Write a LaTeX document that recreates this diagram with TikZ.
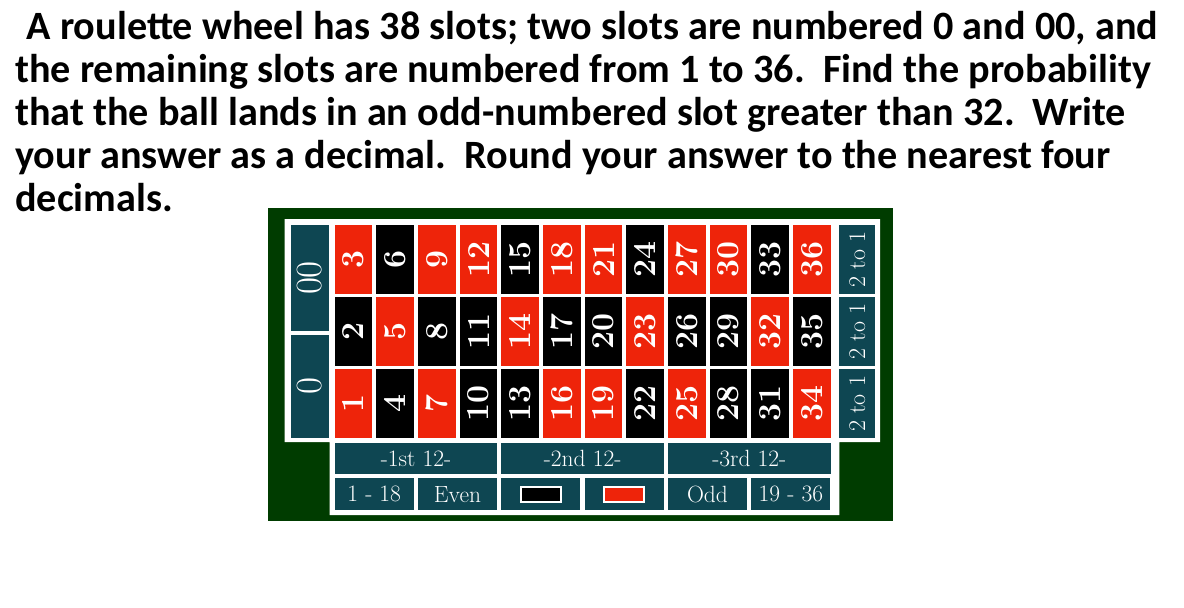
\documentclass[tikz,border=0pt]{standalone}
\usepackage{fontspec}
\newfontfamily\qfont{Carlito}
\usepackage{xcolor}
\usetikzlibrary{positioning}

\definecolor{felt}{RGB}{0,60,0}
\definecolor{slotred}{RGB}{238,36,10}
\definecolor{slotteal}{RGB}{14,70,82}

\tikzset{
  qline/.style={anchor=base west, inner sep=0pt, font=\qfont\bfseries\fontsize{40.2}{43}\selectfont},
  num/.style={text=white, inner sep=0pt, rotate=90, minimum width=68.8pt, minimum height=37.6pt, font=\bfseries\fontsize{32}{32}\selectfont},
  side/.style={fill=slotteal, text=white, inner sep=0pt, rotate=90, minimum width=68.8pt, minimum height=35.7pt, font=\fontsize{24}{24}\selectfont},
  zero/.style={side, minimum height=38.3pt, font=\fontsize{37}{37}\selectfont},
  bet/.style={fill=slotteal, text=white, inner sep=0pt, minimum height=31pt, font=\fontsize{23.5}{23.5}\selectfont},
  swatch/.style={draw=white, line width=2pt, inner sep=0pt, minimum width=39.6pt, minimum height=14.6pt}
}

\begin{document}
\begin{tikzpicture}[x=1pt,y=-1pt]
\useasboundingbox (0,0) rectangle (1184,608);
% question
\node[qline] (q1) at (26.5,39.5) {A roulette wheel has 38 slots; two slots are numbered 0 and 00, and};
\node[qline] (q2) at (15,82.5) {the remaining slots are numbered from 1 to 36.\ \ Find the probability};
\node[qline] (q3) at (15,125.5) {that the ball lands in an odd-numbered slot greater than 32.\ \ Write};
\node[qline] (q4) at (15,168.5) {your answer as a decimal.\ \ Round your answer to the nearest four};
\node[qline] (q5) at (15,211.5) {decimals.};

% table
\fill[felt] (268,208) rectangle (893,521);
\fill[white] (284.7,219) -| (880,442) -| (839.3,515) -| (329.7,442) -| (284.7,219) -- cycle;
\node[zero, minimum width=106pt] (n00) at (309.8,278) {00};
\node[zero, minimum width=103pt] (n0) at (309.8,386.5) {0};
\foreach \n/\clr in {1/slotred,2/black,3/slotred,4/black,5/slotred,6/black,7/slotred,8/black,9/slotred,
  10/black,11/black,12/slotred,13/black,14/slotred,15/black,16/slotred,17/black,18/slotred,
  19/slotred,20/black,21/slotred,22/black,23/slotred,24/black,25/slotred,26/black,27/slotred,
  28/black,29/black,30/slotred,31/black,32/slotred,33/black,34/slotred,35/black,36/slotred}{
  \pgfmathsetmacro\cx{353.5+41.67*int((\n-1)/3)}
  \pgfmathsetmacro\cy{259.4+72.2*(2-mod(\n-1,3))}
  \node[num, fill=\clr] (n\n) at (\cx,\cy) {\n};
}
\foreach \r in {0,1,2}
  \node[side] (col\r) at (857.2,259.4+72.2*\r) {2 to 1};
\foreach \t [count=\k from 0] in {-1st 12-,-2nd 12-,-3rd 12-}
  \node[bet, minimum width=162.7pt] (doz\k) at (416+166.67*\k,458.8) {\t};
\foreach \t [count=\k from 0] in {1 - 18,Even,{},{},Odd,19 - 36}
  \node[bet, minimum width=79pt, minimum height=31.7pt] (out\k) at (374.2+83.33*\k,494.2) {\t};
\node[swatch, fill=black] (blk) at (out2) {};
\node[swatch, fill=slotred] (rd) at (out3) {};
\end{tikzpicture}
\end{document}
